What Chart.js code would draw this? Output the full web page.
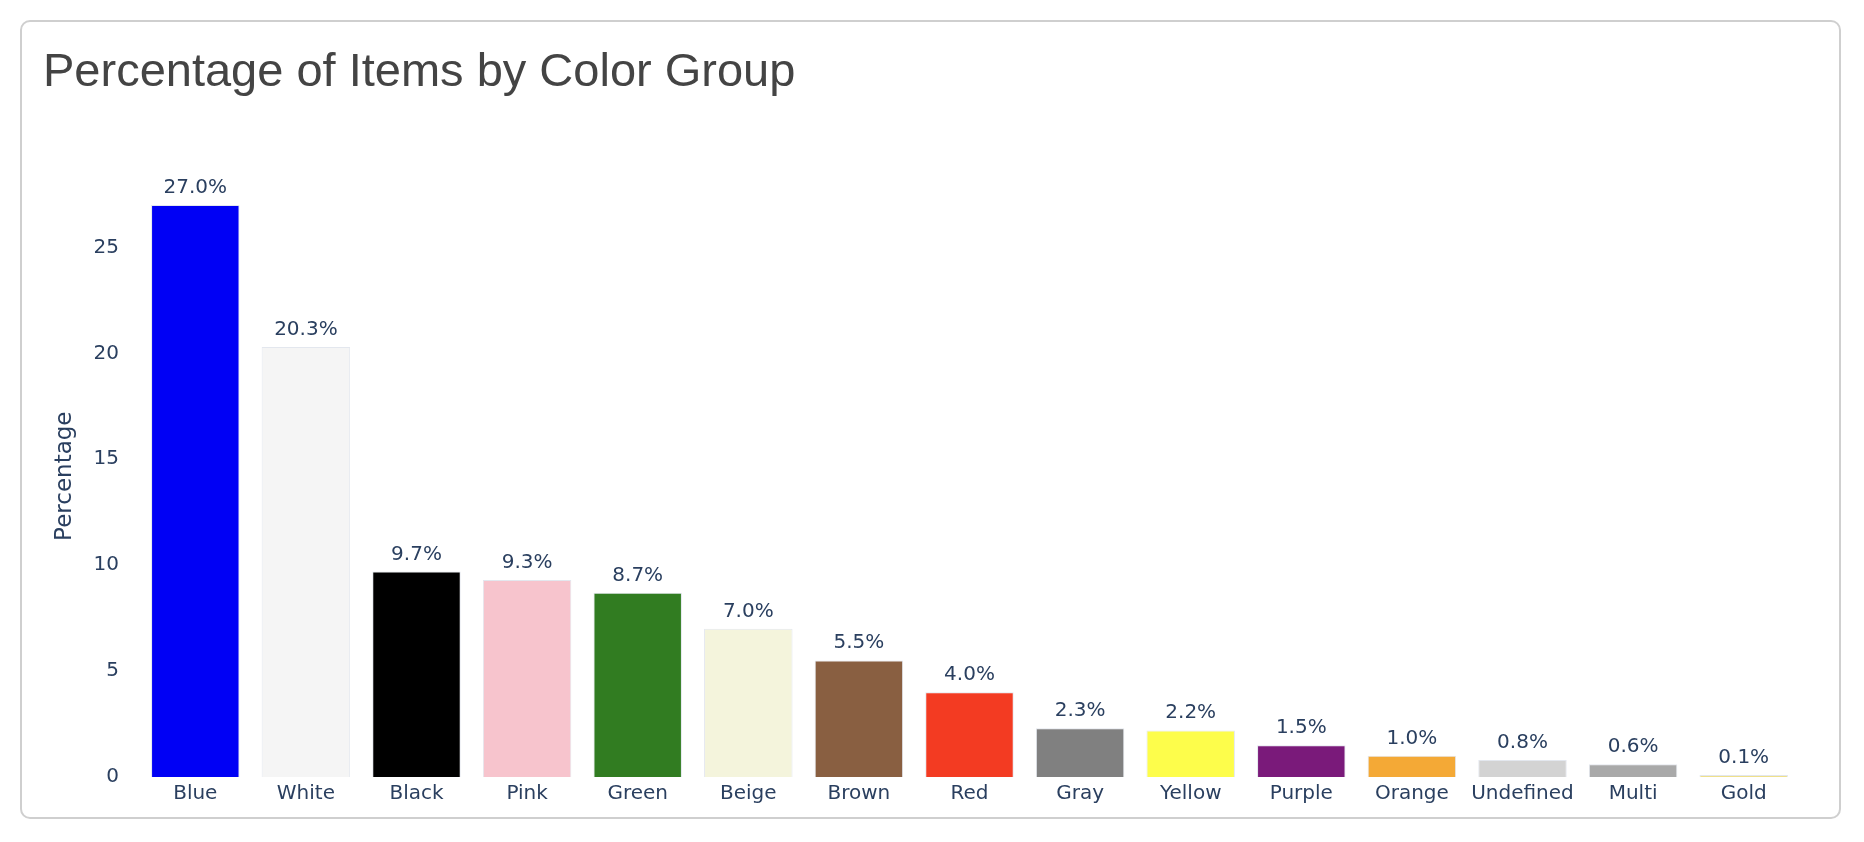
<!DOCTYPE html>
<html>
<head>
<meta charset="utf-8">
<title>Percentage of Items by Color Group</title>
<script src="https://cdn.jsdelivr.net/npm/chart.js@4.4.1/dist/chart.umd.min.js"></script>
<style>
  html, body { margin: 0; padding: 0; background: #fff; }
  .card {
    position: absolute;
    left: 20px; top: 20px;
    width: 1821px; height: 799px;
    box-sizing: border-box;
    border: 2px solid #cfcfcf;
    border-radius: 10px;
    background: #fff;
  }
  .card canvas { position: absolute; left: 0; top: 0; }
</style>
</head>
<body>
<div class="card">
  <canvas id="colorGroupChart" width="1817" height="795"></canvas>
</div>
<script>
// data
const colorGroups = ['Blue', 'White', 'Black', 'Pink', 'Green', 'Beige', 'Brown', 'Red',
                     'Gray', 'Yellow', 'Purple', 'Orange', 'Undefined', 'Multi', 'Gold'];
const percentages = [27.0, 20.3, 9.7, 9.3, 8.7, 7.0, 5.5, 4.0, 2.3, 2.2, 1.5, 1.0, 0.8, 0.6, 0.1];
const barColors = ['#0000f5', '#f5f5f5', '#000000', '#f7c4cd', '#317c21', '#f4f4dc', '#895f41', '#f33b22',
                   '#808080', '#fdfd4b', '#7a1a7a', '#f4a936', '#d3d3d3', '#a9a9a9', '#efe08b'];

const axisColor = '#2a3f5f';

// value labels above each bar
const valueLabels = {
  id: 'valueLabels',
  afterDatasetsDraw(chart) {
    const ctx = chart.ctx;
    const meta = chart.getDatasetMeta(0);
    ctx.save();
    ctx.font = '20px "DejaVu Sans"';
    ctx.fillStyle = axisColor;
    ctx.textAlign = 'center';
    ctx.textBaseline = 'alphabetic';
    meta.data.forEach((bar, i) => {
      ctx.fillText(percentages[i].toFixed(1) + '%', bar.x, bar.y - 12);
    });
    ctx.restore();
  }
};

const ctxColor = document.getElementById('colorGroupChart').getContext('2d');
const colorGroupChart = new Chart(ctxColor, {
type: 'bar',
data: {
    labels: colorGroups,
    datasets: [{
        label: 'Percentage',
        data: percentages,
        backgroundColor: barColors,
        borderColor: '#e3e7ee',
        borderWidth: 1,
        categoryPercentage: 0.8,
        barPercentage: 1.0
    }]
},
options: {
    responsive: false,
    animation: false,
    layout: {
        padding: { left: 21, right: 40, top: 0, bottom: 6 }
    },
    scales: {
        x: {
            grid: { display: false, drawTicks: false },
            border: { display: false },
            ticks: {
                color: axisColor,
                padding: 5,
                font: { family: '"DejaVu Sans"', size: 20 },
                maxRotation: 0
            }
        },
        y: {
            min: 0,
            max: 28.4,
            afterFit: (scale) => { scale.width = 97; },
            grid: { display: false, drawTicks: false },
            border: { display: false },
            ticks: {
                stepSize: 5,
                includeBounds: false,
                color: axisColor,
                padding: 21,
                font: { family: '"DejaVu Sans"', size: 20 }
            },
            title: {
                display: true,
                text: 'Percentage',
                color: axisColor,
                padding: { top: 8, bottom: 0 },
                font: { family: '"DejaVu Sans"', size: 23 }
            }
        }
    },
    plugins: {
        legend: { display: false },
        tooltip: { enabled: false },
        title: {
            display: true,
            text: 'Percentage of Items by Color Group',
            align: 'start',
            color: '#444444',
            padding: { top: 23, bottom: 74 },
            font: { family: '"Liberation Sans", Arial, sans-serif', size: 47, weight: 'normal' }
        }
    }
},
plugins: [valueLabels]
});
</script>
</body>
</html>
